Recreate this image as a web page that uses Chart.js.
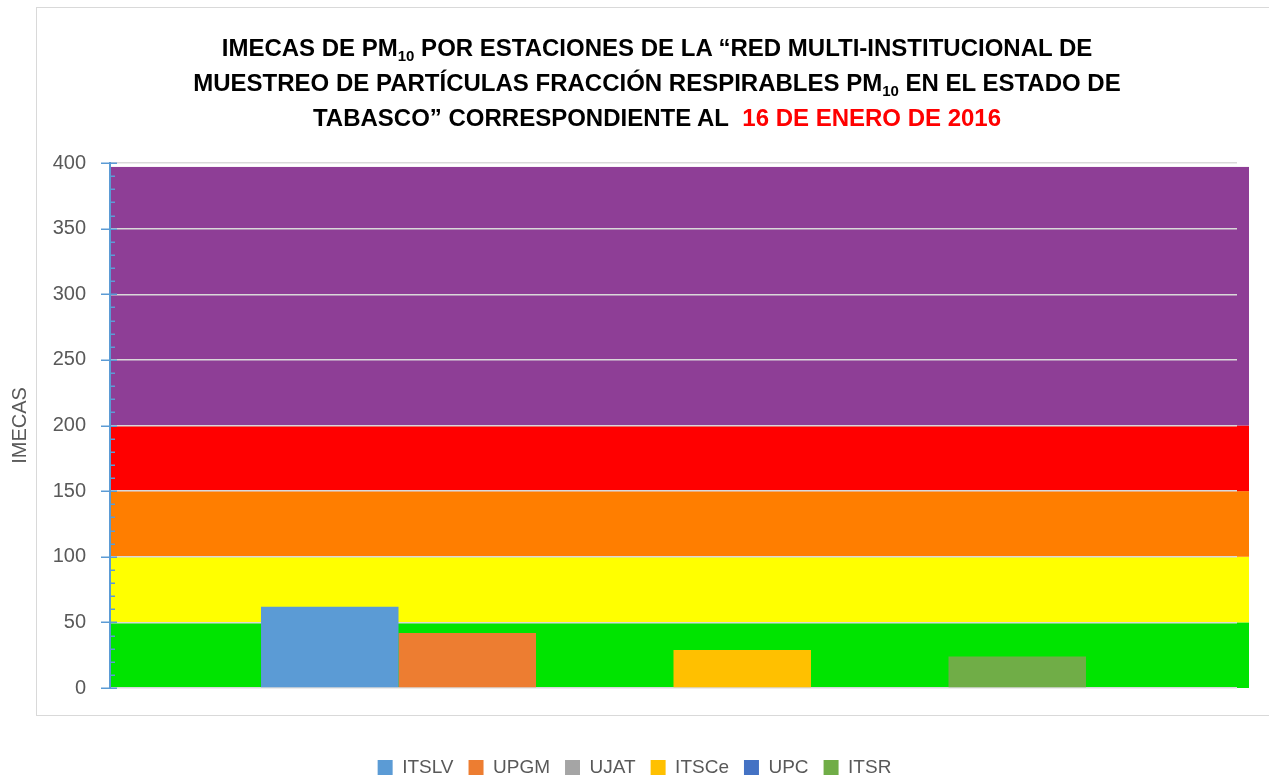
<!DOCTYPE html>
<html><head><meta charset="utf-8">
<script src="https://cdn.jsdelivr.net/npm/chart.js@4/dist/chart.umd.min.js"></script>
<style>
html,body{margin:0;padding:0;background:#fff;overflow:hidden;}
#wrap{position:relative;width:1269px;height:778px;}
#frame{position:absolute;left:36px;top:7px;width:1300px;height:709px;border:1.5px solid #d9d9d9;box-sizing:border-box;}
#title{position:absolute;left:45px;width:1224px;top:30px;text-align:center;font-family:'Liberation Sans',Arial,sans-serif;font-weight:bold;font-size:24px;line-height:35px;color:#000;white-space:nowrap;}
#title sub{font-size:15px;line-height:0;vertical-align:-5px;}
#title .red{color:#ff0000;}
canvas{position:absolute;left:0;top:0;}
</style></head>
<body>
<div id="wrap">
<div id="frame"></div>
<canvas id="c" width="1269" height="778"></canvas>
<div id="title">IMECAS DE PM<sub>10</sub> POR ESTACIONES DE LA “RED MULTI-INSTITUCIONAL DE<br>MUESTREO DE PARTÍCULAS FRACCIÓN RESPIRABLES PM<sub>10</sub> EN EL ESTADO DE<br>TABASCO” CORRESPONDIENTE AL&nbsp; <span class="red">16 DE ENERO DE 2016</span></div>
</div>
<script>
const categories = [''];
const stations = ['ITSLV', 'UPGM', 'UJAT', 'ITSCe', 'UPC', 'ITSR'];
const values = [62, 42, 0, 29, 0, 24];
const stationColors = ['#5b9bd5', '#ed7d31', '#a5a5a5', '#ffc000', '#4472c4', '#70ad47'];
const bandEdges = [0, 50, 100, 150, 200, 397];
const bandColors = ['#00e400', '#ffff00', '#ff7e00', '#ff0000', '#8e3e96'];
const yMin = 0, yMax = 400, yMajorStep = 50, yMinorStep = 10;

const bandsPlugin = {
  id: 'bands',
  beforeDraw(chart) {
    const {ctx, chartArea} = chart;
    const y = chart.scales.y;
    ctx.save();
    for (let i = 0; i < bandColors.length; i++) {
      const top = y.getPixelForValue(bandEdges[i + 1]);
      const bot = y.getPixelForValue(bandEdges[i]);
      ctx.fillStyle = bandColors[i];
      ctx.fillRect(chartArea.left + 1, top, chartArea.right + 12 - (chartArea.left + 1), bot - top);
    }
    ctx.restore();
  }
};

const ticksPlugin = {
  id: 'axisTicks',
  afterDraw(chart) {
    const {ctx, chartArea} = chart;
    const y = chart.scales.y;
    const x0 = chartArea.left;
    ctx.save();
    ctx.strokeStyle = '#5b9bd5';
    ctx.lineWidth = 1.5;
    for (let v = yMin; v <= yMax; v += yMinorStep) {
      const py = Math.round(y.getPixelForValue(v)) + 0.25;
      ctx.beginPath();
      if (v % yMajorStep === 0) { ctx.moveTo(x0 - 9, py); ctx.lineTo(x0 + 7, py); }
      else { ctx.moveTo(x0, py); ctx.lineTo(x0 + 5, py); }
      ctx.stroke();
    }
    ctx.restore();
  }
};

new Chart(document.getElementById('c'), {
  type: 'bar',
  data: {
    labels: categories,
    datasets: stations.map((s, i) => ({
      label: s,
      data: [values[i]],
      backgroundColor: stationColors[i],
      borderWidth: 0,
      barPercentage: 1,
      categoryPercentage: 0.732
    }))
  },
  options: {
    responsive: false,
    animation: false,
    layout: {padding: {top: 163, left: 32, right: 32, bottom: -9}},
    plugins: {
      title: {display: false},
      tooltip: {enabled: false},
      legend: {
        display: true,
        position: 'bottom',
        labels: {
          color: '#595959',
          font: {family: "'Liberation Sans', Arial, sans-serif", size: 19},
          boxWidth: 15, boxHeight: 15, padding: 15
        }
      }
    },
    scales: {
      x: {
        display: true,
        ticks: {display: false},
        grid: {display: false},
        border: {display: false},
        afterFit(s) { s.height = 55; }
      },
      y: {
        min: yMin, max: yMax,
        ticks: {stepSize: yMajorStep, color: '#595959', padding: 24,
          font: {family: "'Liberation Sans', Arial, sans-serif", size: 20}},
        grid: {color: '#d9d9d9', lineWidth: 1.5, drawTicks: false},
        border: {display: true, color: '#5b9bd5', width: 2},
        title: {display: true, text: 'IMECAS', color: '#595959',
          font: {family: "'Liberation Sans', Arial, sans-serif", size: 20},
          padding: {top: -24, bottom: 0}},
        afterFit(s) { s.width = 78; }
      }
    }
  },
  plugins: [bandsPlugin, ticksPlugin]
});
</script>
</body></html>
